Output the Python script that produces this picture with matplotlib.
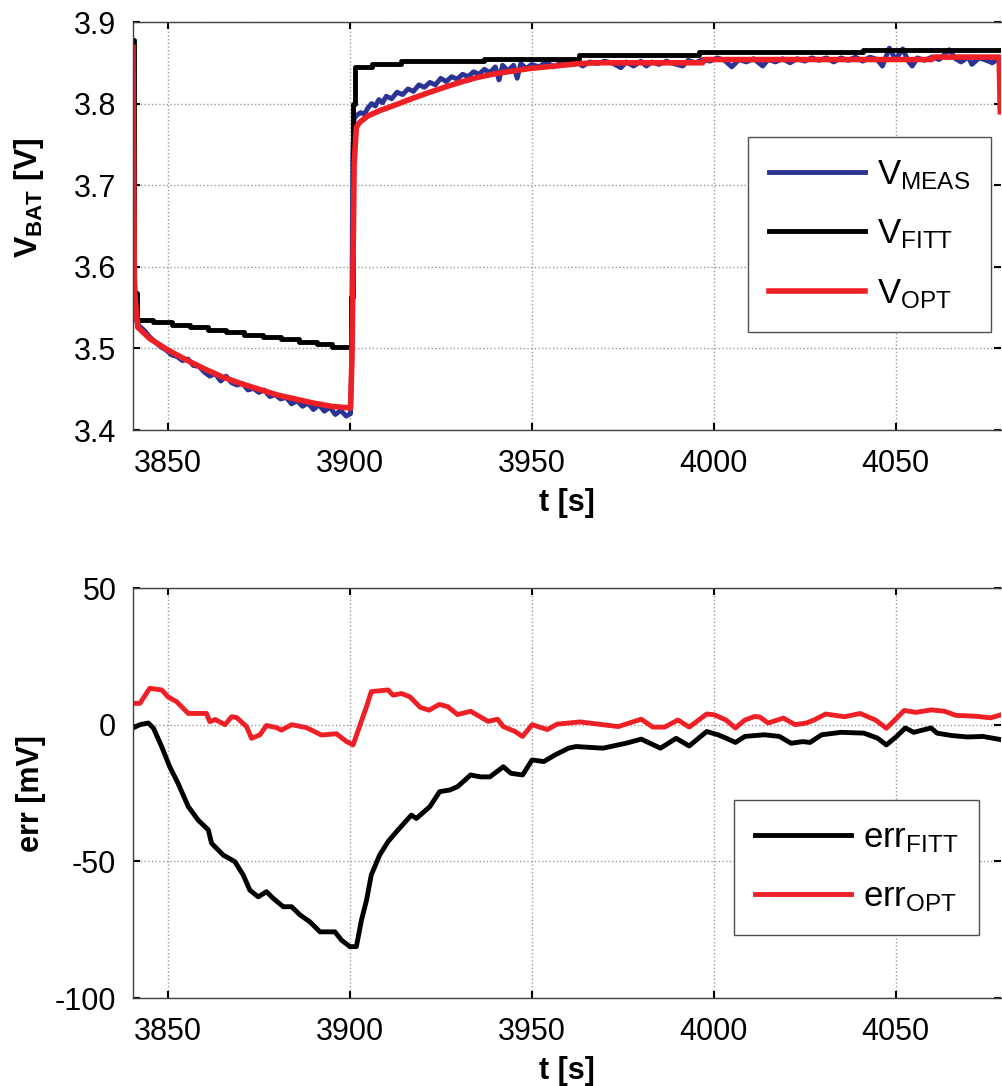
# battery voltage: measured vs fitted vs optimised model, plus model errors

import numpy as np
import matplotlib
matplotlib.use('Agg')
from matplotlib import pyplot as plt

plt.rcParams['font.family'] = ['Liberation Sans', 'DejaVu Sans']
plt.rcParams['mathtext.fontset'] = 'custom'
plt.rcParams['mathtext.rm'] = 'Liberation Sans'
plt.rcParams['mathtext.bf'] = 'Liberation Sans:bold'
plt.rcParams['mathtext.it'] = 'Liberation Sans:italic'
plt.rcParams['axes.unicode_minus'] = False

# data

meas_t = [3840.4, 3840.8, 3841.3, 3842, 3843.5, 3845, 3846.5, 3848, 3849.5, 3851, 3852.5, 3854,
          3855.5, 3857, 3858.5, 3860, 3861.5, 3863, 3864.5, 3866, 3867.5, 3869, 3870.5, 3872,
          3873.5, 3875, 3876.5, 3878, 3879.5, 3881, 3882.5, 3884, 3885.5, 3887, 3888.5, 3890,
          3891.5, 3893, 3894.5, 3896, 3897.5, 3899, 3900.2, 3900.5, 3900.8, 3901.2,
          3902, 3903, 3904, 3905, 3906, 3907, 3908, 3909, 3910, 3911.5, 3913, 3914.5, 3916,
          3917.5, 3919, 3920.5, 3922, 3923.5, 3925, 3926.5, 3928, 3929.5, 3931, 3932.5, 3934,
          3935.5, 3937, 3938.5, 3940, 3941, 3942, 3943.5, 3945, 3946, 3947, 3948.5, 3950, 3952,
          3954, 3956, 3958, 3960, 3962, 3964, 3966, 3968, 3970, 3972, 3974.5, 3976, 3978, 3980,
          3981.5, 3983, 3985, 3987, 3989, 3991.5, 3993, 3995, 3997, 3999, 4001, 4003, 4005, 4007,
          4009, 4011, 4013.5, 4015, 4017, 4019, 4021, 4023, 4025, 4027, 4029, 4031, 4033, 4035,
          4037, 4039, 4041, 4043, 4045, 4046.4, 4048.3, 4050, 4052, 4053.5, 4054.6, 4056, 4058,
          4060, 4062, 4064.8, 4066.5, 4068, 4070, 4071, 4073, 4075, 4076.6, 4078.8]
meas_v = [3.820, 3.590, 3.535, 3.528, 3.522, 3.514, 3.508, 3.502, 3.498, 3.492, 3.490, 3.485,
          3.487, 3.479, 3.478, 3.471, 3.466, 3.469, 3.460, 3.466, 3.458, 3.455, 3.457, 3.449,
          3.451, 3.446, 3.449, 3.441, 3.443, 3.438, 3.440, 3.432, 3.436, 3.429, 3.433, 3.425,
          3.431, 3.423, 3.428, 3.419, 3.424, 3.417, 3.420, 3.480, 3.735, 3.782,
          3.786, 3.789, 3.787, 3.795, 3.800, 3.797, 3.805, 3.801, 3.809, 3.806, 3.814, 3.811, 3.818,
          3.815, 3.823, 3.820, 3.826, 3.823, 3.831, 3.827, 3.833, 3.830, 3.836, 3.833, 3.839,
          3.836, 3.842, 3.838, 3.845, 3.829, 3.847, 3.840, 3.847, 3.831, 3.849, 3.843, 3.848, 3.845,
          3.851, 3.845, 3.850, 3.848, 3.852, 3.846, 3.851, 3.849, 3.852, 3.850, 3.844, 3.851, 3.846, 3.852,
          3.846, 3.851, 3.848, 3.852, 3.849, 3.846, 3.853, 3.850, 3.854, 3.852, 3.856, 3.853, 3.845, 3.854,
          3.851, 3.855, 3.846, 3.854, 3.851, 3.855, 3.850, 3.855, 3.852, 3.856, 3.853, 3.856, 3.851, 3.856,
          3.853, 3.857, 3.852, 3.857, 3.854, 3.846, 3.868, 3.854, 3.867, 3.852, 3.846, 3.856, 3.853,
          3.857, 3.854, 3.866, 3.855, 3.851, 3.857, 3.848, 3.856, 3.853, 3.850, 3.856]

# fitted model is a staircase
fitt_t = [3840.4, 3840.8, 3841.5, 3846, 3851, 3856, 3861, 3866, 3871, 3876, 3881, 3886, 3891,
          3895, 3900.3, 3900.8, 3901.5, 3906, 3914, 3937, 3963, 3996, 4041, 4080]
fitt_v = [3.878, 3.568, 3.535, 3.532, 3.529, 3.526, 3.523, 3.520, 3.517, 3.514, 3.511, 3.508,
          3.505, 3.502, 3.563, 3.800, 3.845, 3.849, 3.852, 3.855, 3.860, 3.863, 3.866, 3.866]

opt_t = [3840.4, 3840.8, 3841.7, 3845, 3850, 3855, 3860, 3865, 3870, 3875, 3880, 3885, 3890,
         3895, 3900.2, 3900.6, 3901.2, 3901.8, 3902.7, 3905, 3908, 3912.9, 3917, 3922, 3926,
         3931, 3935, 3940.4, 3945, 3949.4, 3954, 3958.5, 3963, 3967.8, 3976.9, 3997, 3997.5,
         4060, 4060.5, 4078.5, 4078.8]
opt_v = [3.869, 3.572, 3.526, 3.512, 3.498, 3.486, 3.475, 3.465, 3.457, 3.450, 3.443, 3.438, 3.433,
         3.429, 3.427, 3.490, 3.727, 3.771, 3.777, 3.785, 3.791, 3.799, 3.806, 3.814, 3.820,
         3.827, 3.832, 3.837, 3.840, 3.843, 3.845, 3.847, 3.849, 3.850, 3.850, 3.850, 3.854,
         3.854, 3.857, 3.857, 3.790]

err_fitt_t = [3840.4, 3842.3, 3844.6, 3846, 3848.3, 3850.5, 3852.8, 3855.6, 3858.3, 3861.1, 3862,
              3865.2, 3868.4, 3870.7, 3872.5, 3874.8, 3877.1, 3878.9, 3881.7, 3884, 3886.3, 3889,
              3891.8, 3895.9, 3897.7, 3900, 3901.8, 3903.2, 3904.6, 3905.9, 3908.2, 3910.5, 3912.8,
              3916.9, 3918.3, 3922, 3924.7, 3927.5, 3929.6, 3933.2, 3935.9, 3938.5, 3942.2, 3944.3,
              3947.5, 3950.1, 3953.3, 3956.4, 3960.1, 3962.2, 3969.6, 3975.9, 3980.1, 3985.4,
              3989.7, 3993.3, 3998.1, 4001.2, 4003.4, 4006, 4008.6, 4013.9, 4018.1, 4021.3, 4024.5,
              4026.5, 4029.7, 4035, 4041.3, 4045, 4047.5, 4050.3, 4052.7, 4055, 4059.8, 4061.4,
              4065.6, 4069.8, 4074, 4079.1]
err_fitt = [-1.2, 0.0, 0.6, -1.2, -8.1, -15.4, -21.5, -30.0, -34.9, -38.5, -43.4,
            -47.7, -50.1, -55.0, -60.5, -63.0, -61.1, -63.5, -66.6, -66.6, -69.6, -72.1,
            -75.8, -75.8, -78.8, -81.2, -81.2, -71.5, -64.2, -55.0, -47.7, -42.8, -39.2,
            -33.1, -34.3, -30.0, -24.5, -23.9, -22.7, -18.4, -19.1, -19.1, -15.4, -17.8,
            -18.4, -12.9, -13.5, -11.1, -8.6, -8.0, -8.6, -6.8, -5.3, -8.6,
            -5.0, -7.8, -2.5, -3.7, -4.9, -6.5, -4.3, -3.7, -4.3, -6.8, -6.2,
            -6.5, -3.7, -2.8, -3.1, -4.9, -7.4, -4.3, -1.2, -2.8, -1.2, -3.1,
            -4.0, -4.5, -4.3, -5.5]

err_opt_t = [3840.4, 3842.3, 3845, 3848.3, 3850, 3852.4, 3855.6, 3860.6, 3861.5, 3863, 3865.7,
             3867.5, 3868.9, 3871.6, 3873, 3875.3, 3877.1, 3879.9, 3881.2, 3884, 3888.1, 3892.2,
             3896.3, 3899.1, 3900.9, 3903.6, 3904.6, 3905.9, 3910.5, 3911.9, 3914.2, 3916.5,
             3919.4, 3921.8, 3924.6, 3926.9, 3929.6, 3933.2, 3938, 3940.6, 3942.2, 3945.4, 3947.5,
             3950.1, 3954.3, 3957, 3963.3, 3973.8, 3980.1, 3983.3, 3986.5, 3990.2, 3993.3, 3998.1,
             4000.2, 4003.4, 4006, 4008.6, 4011.3, 4012.7, 4015, 4019.2, 4022.4, 4025.5, 4027.6,
             4030.8, 4036, 4040.3, 4044.5, 4047.5, 4049.8, 4052.4, 4055.6, 4059.8, 4063.5, 4066.6,
             4071.9, 4076.1, 4079]
err_opt = [7.8, 7.8, 13.3, 12.7, 10.2, 8.4, 4.1, 4.1, 1.1, 1.9, 0.0,
           2.9, 2.6, -0.7, -5.0, -3.7, -0.3, -1.1, -2.0, 0.0, -1.1, -3.8,
           -3.3, -6.2, -7.4, 2.9, 6.6, 12.1, 12.7, 10.8, 11.4, 10.2,
           6.3, 5.3, 7.4, 6.6, 3.7, 4.9, 1.2, 2.0, -0.7, -2.5, -4.3,
           0.0, -1.8, 0.2, 1.0, -0.7, 2.0, -0.9, -0.9, 1.7, -0.9, 3.9,
           3.6, 1.7, -1.2, 1.7, 3.0, 2.8, 0.6, 2.4, 0.0, 0.6, 1.7,
           3.9, 2.9, 4.1, 1.7, -1.3, 1.7, 5.2, 4.5, 5.4, 4.9, 3.4,
           3.1, 2.5, 3.6]

x_ticks = [3850, 3900, 3950, 4000, 4050]
v_ticks = [3.4, 3.5, 3.6, 3.7, 3.8, 3.9]
err_ticks = [-100, -50, 0, 50]

blue = '#2b3494'
red = '#ee2026'
black = '#000000'

# figure

fig = plt.figure(figsize = (10.02, 10.86), dpi = 100)
ax1 = fig.add_axes([133 / 1002, 656 / 1086, 868 / 1002, 408 / 1086])
ax2 = fig.add_axes([133 / 1002, 88 / 1086, 868 / 1002, 410 / 1086])

def styleAxes(ax):
    ax.set_xlim(3840.4, 4079)
    ax.set_xticks(x_ticks)
    ax.tick_params(direction = 'in', top = True, right = True, length = 5, width = 1.5,
                   labelsize = 22, color = 'black')
    ax.tick_params(axis = 'x', pad = 14)
    ax.tick_params(axis = 'y', pad = 12)
    ax.grid(True, linestyle = ':', color = '#9a9a9a', linewidth = 1)
    for side in ['left', 'top', 'bottom']:
        ax.spines[side].set_color('#404040')
        ax.spines[side].set_linewidth(1)
    ax.spines['right'].set_visible(False)
    ax.set_xlabel('t [s]', fontsize = 22, fontweight = 'bold', labelpad = 6)

def styleLegend(ax, anchor):
    leg = ax.legend(loc = 'upper right', bbox_to_anchor = anchor, borderaxespad = 0,
                    fontsize = 25, handlelength = 2.75, handletextpad = 0.35, labelspacing = 0.75,
                    borderpad = 0.6, fancybox = False, edgecolor = '#505050', framealpha = 1)
    leg.get_frame().set_linewidth(1)
    return leg

# top: battery voltage

ax1.plot(meas_t, meas_v, color = blue, linewidth = 3.5, label = r'$\mathregular{V_{MEAS}}$')
ax1.plot(fitt_t, fitt_v, color = black, linewidth = 3.5, drawstyle = 'steps-post',
         label = r'$\mathregular{V_{FITT}}$')
ax1.plot(opt_t, opt_v, color = red, linewidth = 4, label = r'$\mathregular{V_{OPT}}$')
styleAxes(ax1)
ax1.set_ylim(3.4, 3.9)
ax1.set_yticks(v_ticks)
ax1.set_yticklabels(['%.1f' % v for v in v_ticks])
ax1.set_ylabel(r'$\mathbf{V_{BAT}}$ [V]', fontsize = 23, fontweight = 'bold')
ax1.yaxis.set_label_coords(-0.1, 0.569)
styleLegend(ax1, (0.9885, 0.718))

# bottom: model errors

ax2.plot(err_fitt_t, err_fitt, color = black, linewidth = 3.5, label = r'$\mathregular{err_{FITT}}$')
ax2.plot(err_opt_t, err_opt, color = red, linewidth = 3.5, label = r'$\mathregular{err_{OPT}}$')
styleAxes(ax2)
ax2.set_ylim(-100, 50)
ax2.set_yticks(err_ticks)
ax2.set_ylabel('err [mV]', fontsize = 22, fontweight = 'bold')
ax2.yaxis.set_label_coords(-0.1, 0.5)
styleLegend(ax2, (0.9747, 0.483))

fig.savefig('out.png', dpi = 100)
